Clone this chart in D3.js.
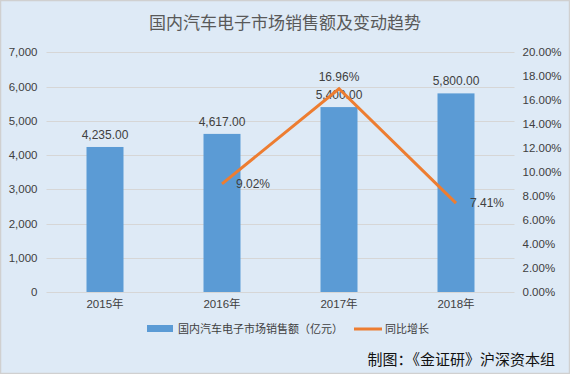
<!DOCTYPE html>
<html><head><meta charset="utf-8">
<script src="https://cdn.jsdelivr.net/npm/d3@7"></script>
<style>body{margin:0;background:#fff;}svg{display:block;}</style>
</head><body>
<script>
const categories = ["2015年","2016年","2017年","2018年"];
const salesValues = [4235, 4617, 5400, 5800];
const growthCategories = ["2016年","2017年","2018年"];
const growthValues = [9.02, 16.96, 7.41];
const leftTicks = [0,1000,2000,3000,4000,5000,6000,7000];
const rightTicks = [0,2,4,6,8,10,12,14,16,18,20];
const title = "国内汽车电子市场销售额及变动趋势";
const seriesNames = ["国内汽车电子市场销售额（亿元）","同比增长"];
const credit = "制图：《金证研》沪深资本组";

const W=570,H=374;
const svg=d3.select("body").append("svg").attr("width",W).attr("height",H);
svg.append("rect").attr("x",0.5).attr("y",0.5).attr("width",W-1).attr("height",H-1)
  .attr("fill","#deeaf6").attr("stroke","#d0d0d0").attr("stroke-width",1.5);

const x=d3.scaleBand().domain(categories).range([46.5,514.5]);
const y=d3.scaleLinear().domain([0,7000]).range([292,52.3]);
const y2=d3.scaleLinear().domain([0,20]).range([292,52.3]);
const font="'Liberation Sans','Noto Sans CJK SC',sans-serif";
const cjk="'Noto Sans CJK SC',sans-serif";

svg.append("text").attr("x",285).attr("y",29).attr("text-anchor","middle")
  .attr("font-family",cjk).attr("font-size",17).attr("fill","#595959").text(title);

// grid
svg.append("g").selectAll("line").data(leftTicks).join("line")
  .attr("x1",46.5).attr("x2",514.5).attr("y1",d=>Math.round(y(d))+0.5).attr("y2",d=>Math.round(y(d))+0.5)
  .attr("stroke","#d6d6d6").attr("stroke-width",1);

// left axis
const la=svg.append("g").attr("transform","translate(46.5,0)")
  .call(d3.axisLeft(y).tickValues(leftTicks).tickSize(0).tickPadding(9).tickFormat(d3.format(",")));
la.select(".domain").remove();
la.selectAll("text").attr("font-family",font).attr("font-size",11.5).attr("fill","#404040");

// right axis
const ra=svg.append("g").attr("transform","translate(514.5,0)")
  .call(d3.axisRight(y2).tickValues(rightTicks).tickSize(0).tickPadding(8).tickFormat(d=>d.toFixed(2)+"%"));
ra.select(".domain").remove();
ra.selectAll("text").attr("font-family",font).attr("font-size",11.5).attr("fill","#404040");

// x axis
const xa=svg.append("g").attr("transform","translate(0,292)")
  .call(d3.axisBottom(x).tickSize(0).tickPadding(8));
xa.select(".domain").remove();
xa.selectAll("text").attr("font-family",font).attr("font-size",11.5).attr("fill","#404040");

// bars
const bw=37;
svg.append("g").selectAll("rect").data(salesValues).join("rect")
  .attr("x",(d,i)=>x(categories[i])+x.bandwidth()/2-bw/2).attr("width",bw)
  .attr("y",d=>y(d)).attr("height",d=>292-y(d)).attr("fill","#5b9bd5");
svg.append("g").selectAll("text").data(salesValues).join("text")
  .attr("x",(d,i)=>x(categories[i])+x.bandwidth()/2).attr("y",d=>y(d)-8)
  .attr("text-anchor","middle").attr("font-family",font).attr("font-size",12).attr("fill","#404040")
  .text(d=>d3.format(",.2f")(d));

// line
const line=d3.line().x((d,i)=>x(growthCategories[i])+x.bandwidth()/2).y(d=>y2(d));
svg.append("path").datum(growthValues).attr("d",line).attr("fill","none")
  .attr("stroke","#ed7d31").attr("stroke-width",3).attr("stroke-linejoin","miter");
const offs=[[14,4,"start"],[0,-8,"middle"],[14,4,"start"]];
svg.append("g").selectAll("text").data(growthValues).join("text")
  .attr("x",(d,i)=>x(growthCategories[i])+x.bandwidth()/2+offs[i][0])
  .attr("y",d=>y2(d)).attr("dy",(d,i)=>offs[i][1])
  .attr("text-anchor",(d,i)=>offs[i][2])
  .attr("font-family",font).attr("font-size",12).attr("fill","#404040")
  .text(d=>d.toFixed(2)+"%");

// legend
const lg=svg.append("g");
lg.append("rect").attr("x",147).attr("y",325).attr("width",26).attr("height",7).attr("fill","#5b9bd5");
lg.append("text").attr("x",178).attr("y",333).attr("font-family",cjk).attr("font-size",11).attr("fill","#404040").text(seriesNames[0]);
lg.append("line").attr("x1",354).attr("x2",382).attr("y1",329).attr("y2",329).attr("stroke","#ed7d31").attr("stroke-width",3);
lg.append("text").attr("x",385).attr("y",333).attr("font-family",cjk).attr("font-size",11).attr("fill","#404040").text(seriesNames[1]);

svg.append("text").attr("x",555).attr("y",365).attr("text-anchor","end")
  .attr("font-family",cjk).attr("font-size",15).attr("fill","#111").text(credit);
</script>
</body></html>
